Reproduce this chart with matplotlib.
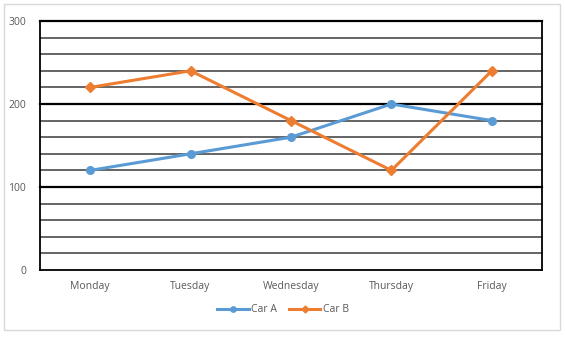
import matplotlib.pyplot as plt
from matplotlib.patches import Rectangle

days = ['Monday', 'Tuesday', 'Wednesday', 'Thursday', 'Friday']
car_a = [120, 140, 160, 200, 180]
car_b = [220, 240, 180, 120, 240]
y_ticks = [0, 100, 200, 300]

plt.rcParams['font.family'] = ['Open Sans', 'DejaVu Sans']

fig = plt.figure(figsize=(5.65, 3.37), dpi=100)
ax = fig.add_axes([40 / 565, 1 - 270 / 337, 502 / 565, 249 / 337])

# outer chart border
fig.patches.append(Rectangle((4 / 565, 1 - 330 / 337), 556 / 565, 326 / 337,
                             transform=fig.transFigure, fill=False,
                             edgecolor='#d9d9d9', lw=1))

x = range(len(days))
for v in range(20, 300, 20):
    if v % 100:
        ax.axhline(v, color='#3a3a3a', lw=1.1, zorder=1)
for v in y_ticks[1:]:
    ax.axhline(v, color='black', lw=1.6, zorder=1, clip_on=False)

ax.plot(x, car_a, color='#5b9bd5', lw=2.2, marker='o', ms=5.5, label='Car A', zorder=3)
ax.plot(x, car_b, color='#ed7d31', lw=2.2, marker='D', ms=5, label='Car B', zorder=3)

ax.set_xlim(-0.5, len(days) - 0.5)
ax.set_ylim(0, 300)
ax.set_xticks(list(x))
ax.set_xticklabels(days)
ax.set_yticks(y_ticks)
ax.tick_params(length=0, labelsize=7.5, colors='#595959', pad=8)
ax.tick_params(axis='y', pad=10)
for s in ['left', 'right', 'bottom']:
    ax.spines[s].set_color('black')
    ax.spines[s].set_linewidth(1.3)
ax.spines['top'].set_visible(False)

fig.legend(loc='center', bbox_to_anchor=(283 / 565, 1 - 310 / 337), ncol=2,
           frameon=False, fontsize=7.5, labelcolor='#595959', handlelength=3,
           columnspacing=1.2, handletextpad=0.2, markerscale=0.7)

fig.savefig('out.png', dpi=100)
